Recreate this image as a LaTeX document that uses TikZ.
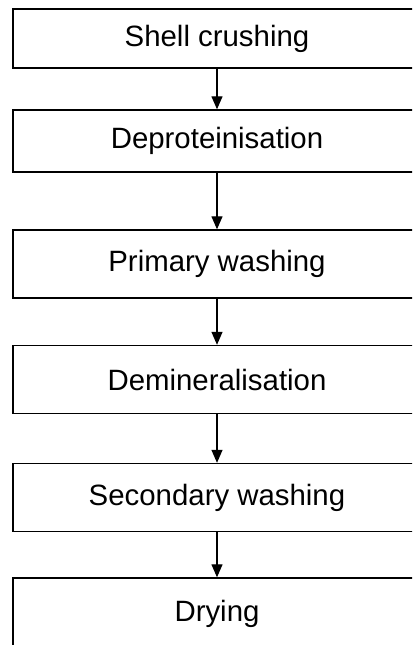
\documentclass[tikz,border=0pt]{standalone}
\usepackage{fontspec}
\setmainfont{Liberation Sans}
\usetikzlibrary{arrows.meta}
\tikzset{
  stage/.style={draw,line width=1.4bp,minimum width=408bp,minimum height=68bp,
    inner sep=0pt,font=\fontsize{29.5}{34}\selectfont},
  flow/.style={line width=1.3bp,-{Triangle[length=13bp,width=11bp]}}
}
\begin{document}
\begin{tikzpicture}[x=1bp,y=-1bp]
\useasboundingbox (0,0) rectangle (412,645);
\clip (0,0) rectangle (412,645);

\node[stage,minimum height=59bp] (crush) at (217,38.5) {Shell crushing};
\node[stage,minimum height=62bp] (deprot) at (217,141) {Deproteinisation};
\node[stage] (wash1) at (217,264) {Primary washing};
\node[stage] (demin) at (217,379.5) {Demineralisation};
\node[stage] (wash2) at (217,497.5) {Secondary washing};
\node[stage,minimum height=72bp] (dry) at (217,614) {Drying};

\foreach \a/\b in {crush/deprot,deprot/wash1,wash1/demin,demin/wash2,wash2/dry}
  \draw[flow] (\a) -- (\b);
\end{tikzpicture}
\end{document}
